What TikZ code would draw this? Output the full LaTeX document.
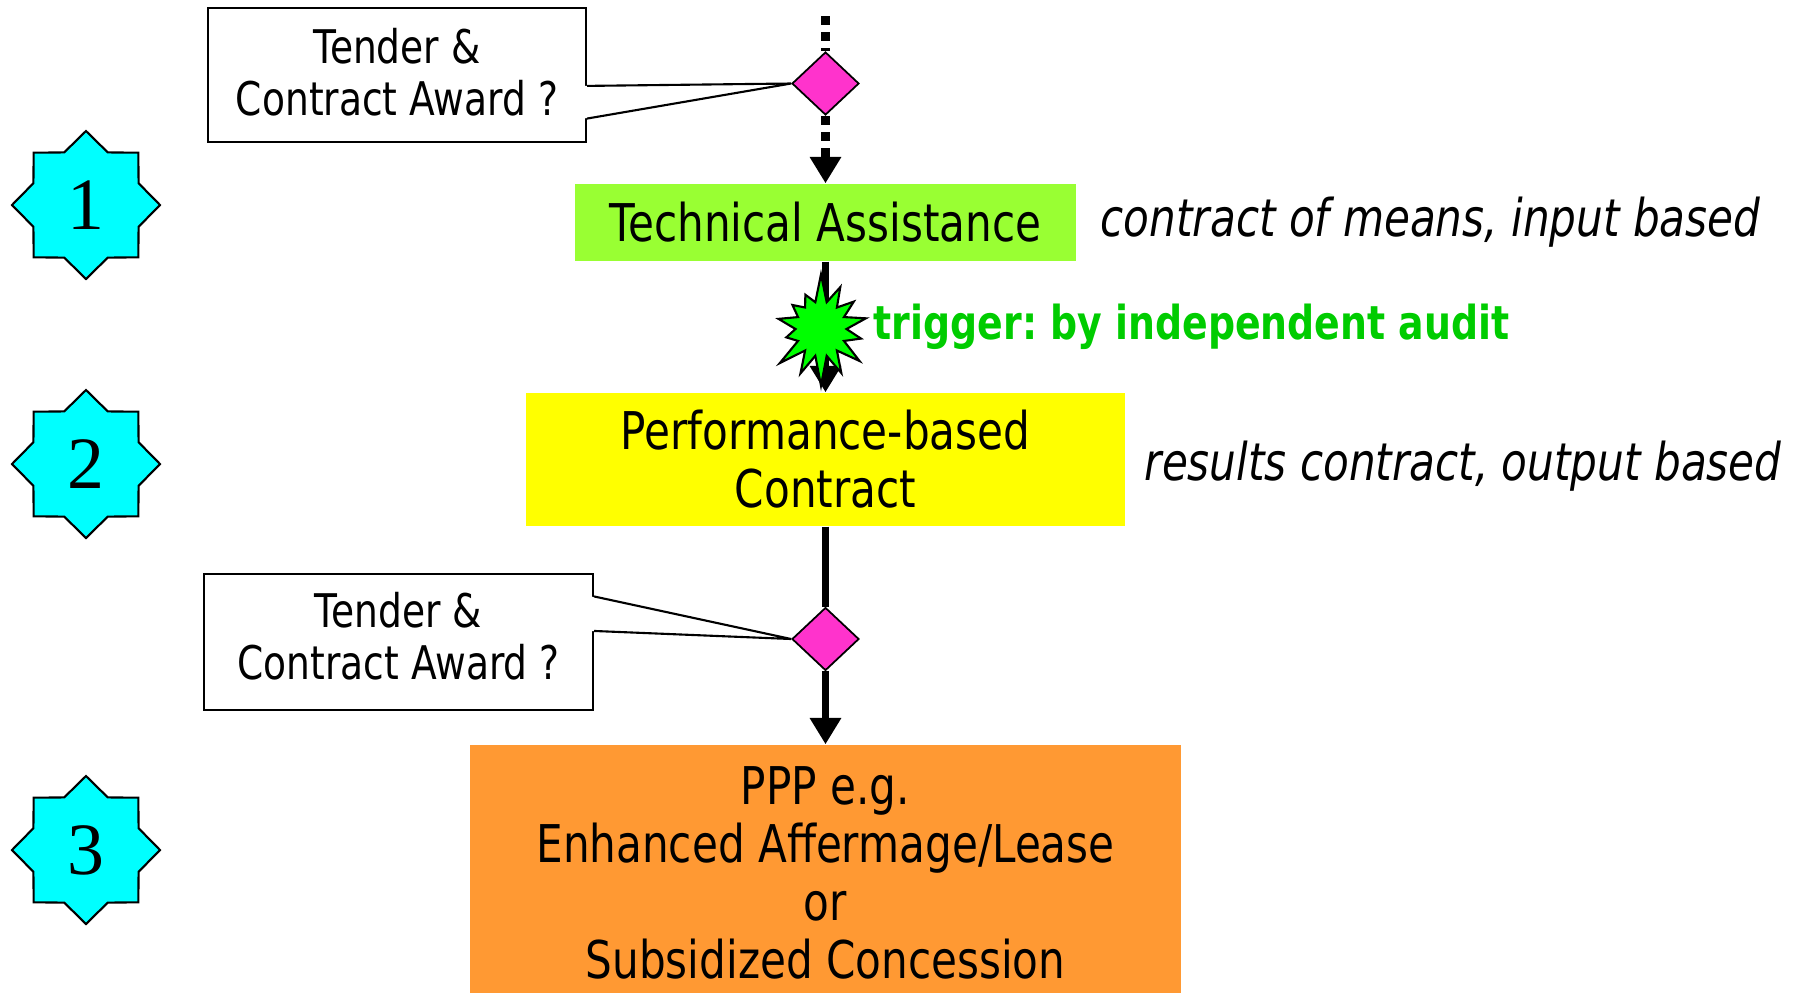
\documentclass[tikz,border=0pt]{standalone}
\usepackage{fontspec}
\setmainfont{DejaVu Sans}[FakeStretch=0.81]
\newfontfamily\numfont{Liberation Serif}
\usetikzlibrary{shapes.geometric,shapes.symbols,arrows.meta,calc}
\definecolor{phasecyan}{HTML}{00FFFF}
\definecolor{awardpink}{HTML}{FF33CC}
\definecolor{talime}{HTML}{99FF33}
\definecolor{pbcyellow}{HTML}{FFFF00}
\definecolor{ppporange}{HTML}{FF9933}
\definecolor{triggergreen}{HTML}{00CC00}
\definecolor{burstgreen}{HTML}{00FF00}
\tikzset{
	phase/.style={star, star points=8, star point ratio=1.3, draw, line width=0.6pt,
		fill=phasecyan, minimum size=1.48cm, inner sep=0pt,
		font=\numfont\fontsize{21}{21}\selectfont},
	decision/.style={diamond, draw, line width=0.5pt, fill=awardpink,
		minimum width=0.67cm, minimum height=0.63cm, inner sep=0pt},
	contract/.style={rectangle, align=center, inner sep=0pt,
		font=\fontsize{14.8}{16.5}\selectfont},
	question/.style={rectangle, draw, line width=0.6pt, fill=white, align=center,
		inner sep=0pt, font=\fontsize{13.2}{14.8}\selectfont},
	burst/.style={starburst, starburst points=14, starburst point height=0.3cm,
		random starburst=7, draw, line width=0.6pt, fill=burstgreen,
		minimum width=1.11cm, minimum height=1.15cm, inner sep=0pt},
	flow/.style={line width=2.1pt, -{Triangle[width=8.5pt,length=7.5pt]}},
	dots/.style={line width=2.4pt, dash pattern=on 2.5pt off 2.1pt},
	note/.style={anchor=west, inner sep=0pt, font=\fontsize{14.8}{16.5}\selectfont\itshape}
}

\begin{document}
\begin{tikzpicture}
	\useasboundingbox (0,0) rectangle (18.06,-9.92);
	\clip (0,0) rectangle (18.06,-9.92);

	\node[phase] (One) at (0.86,-2.05) {1};
	\node[phase] (Two) at (0.86,-4.64) {2};
	\node[phase] (Three) at (0.86,-8.50) {3};

	\coordinate (Start) at (8.255,-0.16);
	\node[decision] (Award1) at (8.255,-0.835) {};
	\node[contract, fill=talime, minimum width=5.01cm, minimum height=0.77cm] (TA) at (8.255,-2.225) {Technical Assistance};
	\node[contract, fill=pbcyellow, minimum width=5.99cm, minimum height=1.33cm] (PBC) at (8.255,-4.595) {Performance-based\\Contract};
	\node[decision] (Award2) at (8.255,-6.39) {};
	\node[contract, fill=ppporange, minimum width=7.11cm, minimum height=2.56cm] (PPP) at (8.255,-8.73) {PPP e.g.\\Enhanced Affermage/Lease\\or\\Subsidized Concession};

	\draw[dots] (Start) -- (Award1.north);
	\draw[flow, dots] (Award1.south) -- (TA.north);
	\draw[flow] (TA.south) -- (PBC.north);
	\node[burst] (Audit) at (8.21,-3.29) {};
	\draw[line width=2.1pt] (PBC.south) -- (Award2.north);
	\draw[flow] (Award2.south) -- (PPP.north);

	% callouts
	\node[question, text depth=2pt, minimum width=3.78cm, minimum height=1.34cm] (Tender1) at (3.97,-0.75) {Tender \&\\Contract Award ?};
	\node[question, text depth=3.3pt, minimum width=3.89cm, minimum height=1.36cm] (Tender2) at (3.985,-6.42) {Tender \&\\Contract Award ?};
	\coordinate (T1a) at ($(Tender1.north east)!0.58!(Tender1.south east)$);
	\coordinate (T1b) at ($(Tender1.north east)!0.82!(Tender1.south east)$);
	\coordinate (T2a) at ($(Tender2.north east)!0.17!(Tender2.south east)$);
	\coordinate (T2b) at ($(Tender2.north east)!0.42!(Tender2.south east)$);
	\fill[white] ([xshift=-1pt]T1a) -- (Award1.west) -- ([xshift=-1pt]T1b) -- cycle;
	\draw[line width=0.6pt] (T1a) -- (Award1.west) -- (T1b);
	\fill[white] ([xshift=-1pt]T2a) -- (Award2.west) -- ([xshift=-1pt]T2b) -- cycle;
	\draw[line width=0.6pt] (T2a) -- (Award2.west) -- (T2b);

	\node[note] (Means) at (11.00,-2.22) {contract of means, input based};
	\node[note] (Results) at (11.44,-4.66) {results contract, output based};
	\node[anchor=west, inner sep=0pt, text=triggergreen, font=\fontsize{13.3}{16}\selectfont\bfseries] (Trigger) at (8.73,-3.27) {trigger:\ by independent audit};
\end{tikzpicture}
\end{document}
